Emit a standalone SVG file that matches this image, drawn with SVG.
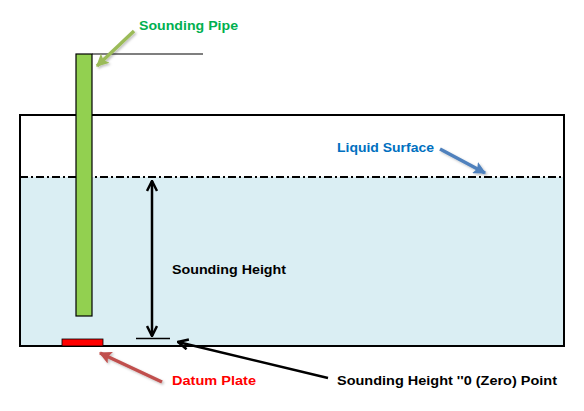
<svg xmlns="http://www.w3.org/2000/svg" width="584" height="411" viewBox="0 0 584 411">
<style>
.lbl{font-family:"Liberation Sans",Arial,sans-serif;font-weight:bold;font-size:13px}
.black{stroke:#000;fill:none}
</style>
<defs>
<marker id="ahb" viewBox="0 0 10 10" refX="9" refY="5" markerWidth="5" markerHeight="5" orient="auto-start-reverse" markerUnits="strokeWidth">
<path d="M1,1 L9,5 L1,9" fill="none" stroke="#000" stroke-width="2"/>
</marker>
<marker id="ahg" viewBox="0 0 10 10" refX="9" refY="5" markerWidth="3.6" markerHeight="3.6" orient="auto" markerUnits="strokeWidth">
<path d="M0,0 L10,5 L0,10 L2,5 z" fill="#9BBB59"/>
</marker>
<marker id="ahbl" viewBox="0 0 10 10" refX="9" refY="5" markerWidth="3.6" markerHeight="3.6" orient="auto" markerUnits="strokeWidth">
<path d="M0,0 L10,5 L0,10 L2,5 z" fill="#4F81BD"/>
</marker>
<marker id="ahr" viewBox="0 0 10 10" refX="9" refY="5" markerWidth="3.6" markerHeight="3.6" orient="auto" markerUnits="strokeWidth">
<path d="M0,0 L10,5 L0,10 L2,5 z" fill="#C0504D"/>
</marker>
<filter id="sh" x="-20%" y="-20%" width="140%" height="140%">
<feDropShadow dx="1.5" dy="1.5" stdDeviation="1" flood-color="#000" flood-opacity="0.25"/>
</filter>
</defs>

<g id="tank">
<rect x="20" y="177" width="544" height="169" fill="#DAEEF3"/>
<rect x="20" y="115" width="544" height="231" fill="none" stroke="#000" stroke-width="2"/>
</g>

<g id="liquid-surface">
<line x1="20" y1="177" x2="564" y2="177" stroke="#000" stroke-width="2" stroke-dasharray="8,3,2,3"/>
</g>

<g id="sounding-pipe">
<rect x="76" y="54" width="16" height="262" fill="#92D050" stroke="#000" stroke-width="1.2"/>
<line x1="92" y1="54" x2="203" y2="54" stroke="#000" stroke-width="1.2"/>
</g>

<g id="datum-plate">
<rect x="62" y="339" width="41" height="7" fill="#FF0000" stroke="#000" stroke-width="0.8"/>
</g>

<g id="zero-tick">
<line x1="136" y1="338.5" x2="170" y2="338.5" stroke="#000" stroke-width="1.5"/>
</g>

<g id="connectors">
<line x1="152" y1="181" x2="152" y2="336" stroke="#000" stroke-width="2.5" marker-start="url(#ahb)" marker-end="url(#ahb)"/>
<line x1="328" y1="378" x2="178" y2="342" stroke="#000" stroke-width="2.5" marker-end="url(#ahb)"/>
<g filter="url(#sh)">
<line x1="134" y1="31" x2="97" y2="66" stroke="#9BBB59" stroke-width="3.5" marker-end="url(#ahg)"/>
<line x1="440" y1="149" x2="485" y2="173" stroke="#4F81BD" stroke-width="3.5" marker-end="url(#ahbl)"/>
<line x1="162" y1="382" x2="100" y2="353" stroke="#C0504D" stroke-width="3.5" marker-end="url(#ahr)"/>
</g>
</g>

<g id="labels">
<text class="lbl" x="139" y="30" fill="#00B050" textLength="99" lengthAdjust="spacingAndGlyphs">Sounding Pipe</text>
<text class="lbl" x="337" y="152" fill="#0070C0" textLength="97" lengthAdjust="spacingAndGlyphs">Liquid Surface</text>
<text class="lbl" x="172" y="274" fill="#000" textLength="114" lengthAdjust="spacingAndGlyphs">Sounding Height</text>
<text class="lbl" x="172" y="385" fill="#FF0000" textLength="84" lengthAdjust="spacingAndGlyphs">Datum Plate</text>
<text class="lbl" x="337" y="385" fill="#000" textLength="220" lengthAdjust="spacingAndGlyphs">Sounding Height ''0 (Zero) Point</text>
</g>
</svg>
